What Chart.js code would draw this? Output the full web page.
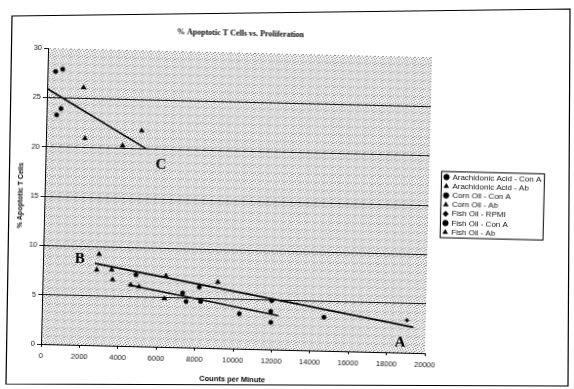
<!DOCTYPE html>
<html><head><meta charset="utf-8">
<script src="https://cdn.jsdelivr.net/npm/chart.js@4/dist/chart.umd.min.js"></script>
<style>
html,body{margin:0;padding:0;background:#fff;overflow:hidden}
#wrap{position:relative;width:574px;height:389px;overflow:hidden}
#c{position:absolute;left:0;top:0;transform:rotate(1.37deg);transform-origin:41px 344px}
#frame{position:absolute;left:0;top:0;pointer-events:none}
</style>
</head><body><div id="wrap"><canvas id="c" width="574" height="389"></canvas><canvas id="frame" width="574" height="389"></canvas></div>
<script>
const chartTitle = '% Apoptotic T Cells vs. Proliferation';
const xAxisTitle = 'Counts per Minute';
const yAxisTitle = '% Apoptotic T Cells';
const seriesLabels = ['Arachidonic Acid - Con A','Arachidonic Acid - Ab','Corn Oil - Con A','Corn Oil - Ab','Fish Oil - RPMI','Fish Oil - Con A','Fish Oil - Ab'];
const seriesMarkers = ['circle','triangle','circle','triangle','rectRot','circle','triangle'];

const aaConAX = [420, 790, 750, 530];
const aaConAY = [27.65, 27.9, 23.9, 23.25];
const aaAbX = [1900, 2030, 4000, 4980];
const aaAbY = [26.1, 20.95, 20.3, 21.85];
const cornConAX = [4860, 8170, 8260, 11920, 11940];
const cornConAY = [7.25, 6.15, 4.7, 3.85, 2.75];
const cornAbX = [2920, 2810, 3590, 3650, 6420, 9130];
const cornAbY = [9.25, 7.65, 7.7, 6.7, 7.2, 6.7];
const fishRpmiX = [19020];
const fishRpmiY = [3.3];
const fishConAX = [7310, 7500, 10290, 14700, 11960];
const fishConAY = [5.5, 4.65, 3.55, 3.4, 4.95];
const fishAbX = [4600, 5030, 6370];
const fishAbY = [6.2, 6.05, 4.9];

const lineAX = [2710, 19370];
const lineAY = [8.3, 2.6];
const lineBX = [4470, 12320];
const lineBY = [6.2, 3.45];
const lineCX = [0, 5220];
const lineCY = [25.9, 20.05];

const noteText = ['A', 'B', 'C'];
const noteX = [18700, 1920, 6030];
const noteY = [1.05, 8.75, 18.45];

const xTicks = [0, 2000, 4000, 6000, 8000, 10000, 12000, 14000, 16000, 18000, 20000];
const yTicks = [0, 5, 10, 15, 20, 25, 30];

const pts = (xs, ys) => xs.map((x, i) => ({x: x, y: ys[i]}));
const seriesX = [aaConAX, aaAbX, cornConAX, cornAbX, fishRpmiX, fishConAX, fishAbX];
const seriesY = [aaConAY, aaAbY, cornConAY, cornAbY, fishRpmiY, fishConAY, fishAbY];

const datasets = seriesLabels.map((lab, i) => ({
  label: lab,
  data: pts(seriesX[i], seriesY[i]),
  pointStyle: seriesMarkers[i],
  pointRadius: seriesMarkers[i] === 'triangle' ? 2.9 : (seriesMarkers[i] === 'rectRot' ? 2.0 : 2.2),
  backgroundColor: '#000',
  borderColor: '#000',
  borderWidth: 0.5,
  showLine: false
}));
[[lineAX, lineAY], [lineBX, lineBY], [lineCX, lineCY]].forEach(([xs, ys], k) => {
  datasets.push({
    label: 'fit' + k,
    data: pts(xs, ys),
    showLine: true,
    pointRadius: 0,
    borderColor: '#000',
    borderWidth: 1.6,
    backgroundColor: '#000'
  });
});

function makePattern(ctx) {
  const c = document.createElement('canvas');
  c.width = 8; c.height = 8;
  const g = c.getContext('2d');
  g.fillStyle = '#f3f3f3'; g.fillRect(0, 0, 8, 8);
  g.fillStyle = '#8c8c8c';
  [[0,0],[3,0],[6,1],[1,2],[4,2],[7,3],[2,4],[5,4],[0,5],[3,6],[6,6],[1,7],[5,7],[7,0]].forEach(([a,b]) => g.fillRect(a, b, 1, 1));
  g.fillStyle = '#c8c8c8';
  [[2,1],[5,2],[0,3],[4,5],[7,6],[2,7]].forEach(([a,b]) => g.fillRect(a, b, 1, 1));
  return ctx.createPattern(c, 'repeat');
}

const LEG_DX = 14.2, LEG_DY = 0.5;

const decor = {
  id: 'decor',
  afterInit(chart) {
    const leg = chart.legend;
    const origFit = leg.fit.bind(leg);
    leg.fit = function() { origFit(); this.width = 149; };
    const origDraw = leg.draw.bind(leg);
    leg.draw = function() {
      const ctx = chart.ctx;
      const boxes = this.legendHitBoxes || [];
      if (boxes.length) {
        let l = Infinity, t = Infinity, r = -Infinity, b = -Infinity;
        boxes.forEach(h => { l = Math.min(l, h.left); t = Math.min(t, h.top); r = Math.max(r, h.left + h.width); b = Math.max(b, h.top + h.height); });
        ctx.save();
        ctx.fillStyle = '#fff';
        ctx.strokeStyle = '#000';
        ctx.lineWidth = 1;
        const x0 = l + LEG_DX - 3, y0 = t + LEG_DY - 1.5;
        const x1 = r + LEG_DX + 3, y1 = b + LEG_DY + 1.5;
        ctx.fillRect(x0, y0, x1 - x0, y1 - y0);
        ctx.strokeRect(x0, y0, x1 - x0, y1 - y0);
        ctx.restore();
      }
      ctx.save();
      ctx.translate(LEG_DX, LEG_DY);
      origDraw();
      ctx.restore();
    };
  },
  beforeDraw(chart) {
    const {ctx, chartArea: a} = chart;
    ctx.save();
    ctx.fillStyle = '#fff';
    ctx.fillRect(0, 0, chart.width, chart.height);
    ctx.fillStyle = makePattern(ctx);
    ctx.fillRect(a.left, a.top, a.right - a.left, a.bottom - a.top);
    ctx.restore();
  },
  afterDatasetsDraw(chart) {
    const {ctx, scales: {x, y}} = chart;
    ctx.save();
    ctx.fillStyle = '#000';
    ctx.font = 'bold 15px "Liberation Serif", "Times New Roman", serif';
    ctx.textAlign = 'center';
    ctx.textBaseline = 'middle';
    noteText.forEach((t, i) => ctx.fillText(t, x.getPixelForValue(noteX[i]), y.getPixelForValue(noteY[i])));
    ctx.restore();
  }
};

new Chart(document.getElementById('c'), {
  type: 'scatter',
  data: {datasets: datasets},
  plugins: [decor],
  options: {
    responsive: false,
    animation: false,
    devicePixelRatio: 1,
    layout: {padding: {left: 0, right: 0, top: 0, bottom: 0}},
    plugins: {
      title: {
        display: true,
        text: chartTitle,
        fullSize: false,
        color: '#000',
        font: {family: '"Liberation Serif", "Times New Roman", serif', size: 8, weight: 'bold'},
        padding: {top: 24, bottom: 14.4}
      },
      legend: {
        display: true,
        position: 'right',
        align: 'center',
        labels: {
          usePointStyle: true,
          boxWidth: 4,
          boxHeight: 4,
          padding: 1.2,
          color: '#111',
          font: {family: '"Liberation Sans", Arial, sans-serif', size: 8},
          filter: item => item.datasetIndex < seriesLabels.length
        }
      },
      tooltip: {enabled: false}
    },
    scales: {
      x: {
        type: 'linear',
        min: 0, max: 20000,
        afterBuildTicks: s => { s.ticks = xTicks.map(v => ({value: v})); },
        afterFit: s => { s.height = 45; },
        ticks: {color: '#111', padding: 4, maxRotation: 0, autoSkip: false,
          font: {family: '"Liberation Sans", Arial, sans-serif', size: 7.5},
          callback: v => String(v)},
        grid: {drawOnChartArea: false, drawTicks: true, tickLength: 3, color: '#000', tickColor: '#000'},
        border: {display: true, color: '#000', width: 1},
        title: {display: true, text: xAxisTitle, color: '#000',
          font: {family: '"Liberation Sans", Arial, sans-serif', size: 7.5, weight: 'bold'},
          padding: {top: 0, bottom: 10}}
      },
      y: {
        type: 'linear',
        min: 0, max: 30,
        afterBuildTicks: s => { s.ticks = yTicks.map(v => ({value: v})); },
        afterFit: s => { s.width = 41; },
        ticks: {color: '#111', padding: 2,
          font: {family: '"Liberation Sans", Arial, sans-serif', size: 7.5}},
        grid: {drawOnChartArea: true, drawTicks: true, tickLength: 4,
          color: c => (c.tick && c.tick.value === 30) ? 'rgba(0,0,0,0)' : '#000',
          tickColor: '#000', lineWidth: 0.9},
        border: {display: true, color: '#000', width: 1},
        title: {display: true, text: yAxisTitle, color: '#000',
          font: {family: '"Liberation Sans", Arial, sans-serif', size: 7, weight: 'bold'},
          padding: {top: 12.5, bottom: 0}}
      }
    }
  }
});

(function drawFrame() {
  const f = document.getElementById('frame').getContext('2d');
  f.strokeStyle = '#000';
  f.lineWidth = 1.2;
  f.beginPath();
  f.moveTo(12, 16); f.lineTo(570, 9);
  f.lineTo(568, 386); f.lineTo(6, 384); f.closePath();
  f.stroke();
})();
</script>
</body></html>
